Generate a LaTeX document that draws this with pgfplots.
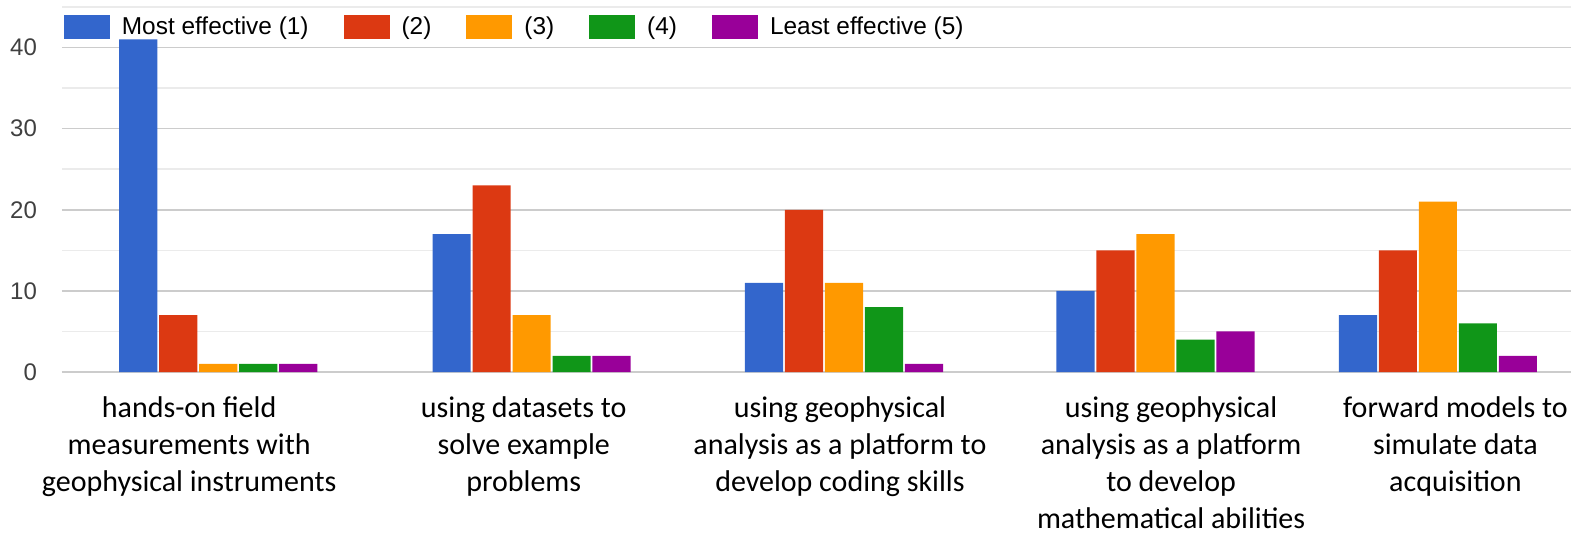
\documentclass[border=0pt]{standalone}
\usepackage{fontspec}
\setmainfont{Carlito}
\newfontfamily\arial{Liberation Sans}
\usepackage{pgfplots}
\pgfplotsset{compat=1.18}
\definecolor{gblue}{HTML}{3366CC}
\definecolor{gred}{HTML}{DC3912}
\definecolor{gorange}{HTML}{FF9900}
\definecolor{ggreen}{HTML}{109618}
\definecolor{gpurple}{HTML}{990099}
\begin{document}
\begin{tikzpicture}
\begin{axis}[
  name=ax,
  scale only axis,
  width=754.5pt, height=182.5pt,
  xmin=-0.5, xmax=4.33,
  ymin=0, ymax=45,
  axis line style={draw=none},
  ybar, bar width=0.122,
  every axis plot post/.append style={/pgfplots/legend image code/.code={\fill[##1,draw=none] (0pt,-6pt) rectangle (23pt,6pt);}},
  ytick={0,10,20,30,40},
  minor ytick={5,15,25,35,45},
  ymajorgrids, yminorgrids,
  major grid style={color=black!20, line width=0.8pt},
  minor grid style={color=black!8, line width=0.8pt},
  major tick length=0pt, minor tick length=0pt,
  /pgf/number format/assume math mode=true,
  yticklabel style={font=\arial\fontsize{12}{14}\selectfont, text=black!75, anchor=east, xshift=-9pt},
  xtick={-0.093,0.978,1.99,3.05,3.96},
  xticklabels={{hands-on field\\measurements with\\geophysical instruments},
               {using datasets to\\solve example\\problems},
               {using geophysical\\analysis as a platform to\\develop coding skills},
               {using geophysical\\analysis as a platform\\to develop\\mathematical abilities},
               {forward models to\\simulate data\\acquisition}},
  xticklabel style={font=\fontsize{15}{18.5}\selectfont, align=center, anchor=north, yshift=-9pt},
  extra y ticks={0},
  extra y tick labels={},
  extra y tick style={grid style={color=black!70, line width=1pt}},
  legend columns=5,
  legend style={draw=none, fill=none, at={(rel axis cs:0.001,0.945)}, anchor=west, inner sep=0pt,
     font=\arial\fontsize{12.2}{14}\selectfont, column sep=0pt,
     nodes={inner sep=0pt},
     /tikz/every odd column/.append style={column sep=6pt},
     /tikz/every even column/.append style={column sep=17.5pt}},
]
\addplot[fill=gblue, draw=none, bar shift=-0.256] coordinates {(0,41) (1.003,17) (2.003,11) (3,10) (3.904,7)};
\addplot[fill=gred, draw=none, bar shift=-0.128] coordinates {(0,7) (1.003,23) (2.003,20) (3,15) (3.904,15)};
\addplot[fill=gorange, draw=none, bar shift=0] coordinates {(0,1) (1.003,7) (2.003,11) (3,17) (3.904,21)};
\addplot[fill=ggreen, draw=none, bar shift=0.128] coordinates {(0,1) (1.003,2) (2.003,8) (3,4) (3.904,6)};
\addplot[fill=gpurple, draw=none, bar shift=0.256] coordinates {(0,1) (1.003,2) (2.003,1) (3,5) (3.904,2)};
\legend{Most effective (1),(2),(3),(4),Least effective (5)}
\end{axis}
\pgfresetboundingbox
\path[use as bounding box] ([shift={(-31pt,-84.5pt)}]ax.south west) rectangle ([shift={(5pt,3.5pt)}]ax.north east);
\end{tikzpicture}
\end{document}
